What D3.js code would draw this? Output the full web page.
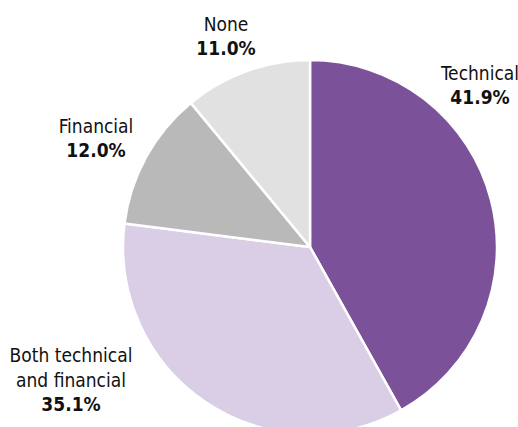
<!DOCTYPE html>
<html><head><meta charset="utf-8">
<script src="https://cdn.jsdelivr.net/npm/d3@7"></script>
<style>body{margin:0;background:#fff}svg{display:block}</style>
</head><body>
<svg id="c" width="518" height="427"></svg>
<script>
const categories = ["Technical", "Both technical and financial", "Financial", "None"];
const values = [41.9, 35.1, 12.0, 11.0];
const colors = ["#7b5299", "#d9cee5", "#b9b9b9", "#e1e1e1"];
const labelLines = [["Technical"], ["Both technical", "and financial"], ["Financial"], ["None"]];
const labelPos = [[480, 80], [71, 362], [96, 133], [226, 31]];

const svg = d3.select("#c");
const cx = 310, cy = 247, r = 187;
const data = categories.map((c, i) => ({c, v: values[i], i}));
const pie = d3.pie().value(d => d.v).sort(null);
const arc = d3.arc().innerRadius(0).outerRadius(r);
const g = svg.append("g").attr("transform", `translate(${cx},${cy})`);
g.selectAll("path").data(pie(data)).join("path")
  .attr("d", arc).attr("fill", d => colors[d.data.i])
  .attr("stroke", "#fff").attr("stroke-width", 2.5).attr("stroke-linejoin", "round");

const font = "'Liberation Sans Narrow', 'DejaVu Sans Condensed', 'Liberation Sans', sans-serif";
data.forEach((d, i) => {
  const [x, y] = labelPos[i];
  const t = svg.append("text").attr("x", x).attr("y", y).attr("text-anchor", "middle")
    .attr("font-family", font).attr("font-size", 19).attr("fill", "#111");
  const lines = labelLines[i];
  lines.forEach((l, k) => t.append("tspan").attr("x", x).attr("dy", k === 0 ? 0 : 25).text(l));
  t.append("tspan").attr("x", x).attr("dy", lines.length ? 24 : 0)
    .attr("font-weight", "bold").text(d3.format(".1f")(d.v) + "%");
});
</script>
</body></html>
